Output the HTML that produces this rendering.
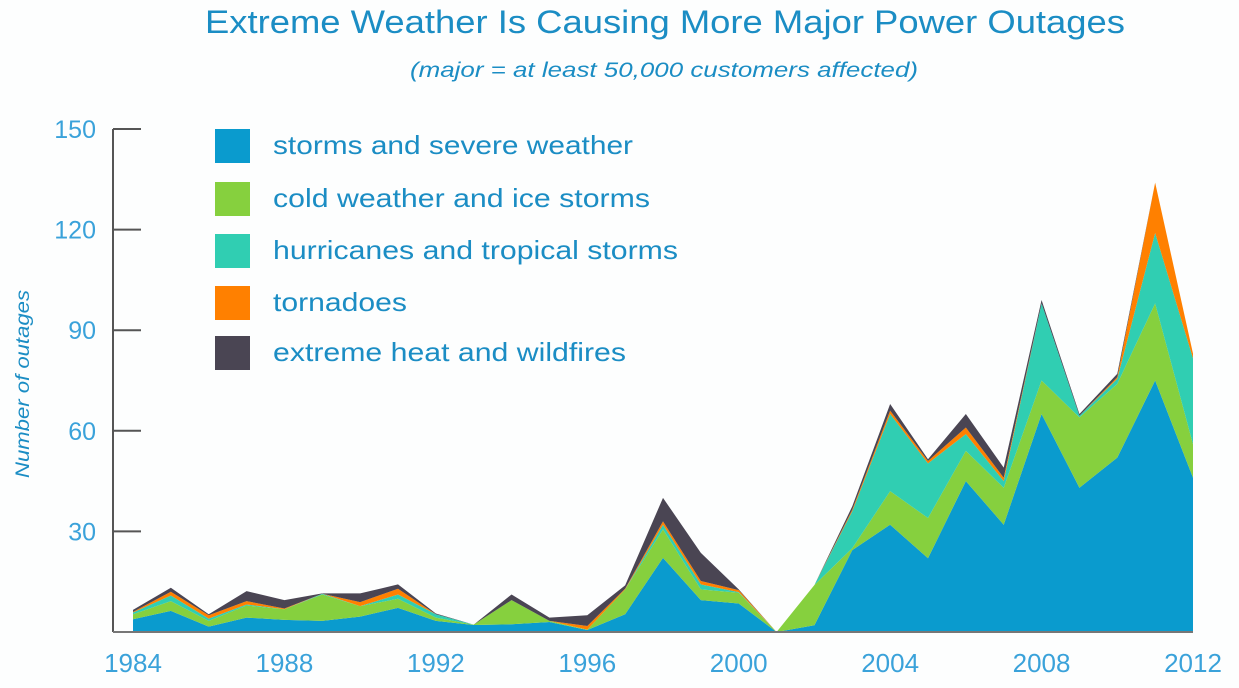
<!DOCTYPE html>
<html><head><meta charset="utf-8"><style>
html,body{margin:0;padding:0;background:#fdfefe;}
svg{display:block;font-family:"Liberation Sans",sans-serif;}
</style></head><body>
<svg id="chart" width="1239" height="688" viewBox="0 0 1239 688">
<text x="205" y="33" font-size="32" fill="#1b8dc4" textLength="920" lengthAdjust="spacingAndGlyphs">Extreme Weather Is Causing More Major Power Outages</text>
<text x="410" y="77" font-size="21" font-style="italic" fill="#1b8dc4" textLength="508" lengthAdjust="spacingAndGlyphs">(major = at least 50,000 customers affected)</text>
<text transform="translate(29,384) rotate(-90)" text-anchor="middle" font-size="19" font-style="italic" fill="#1b8dc4" textLength="188" lengthAdjust="spacingAndGlyphs">Number of outages</text>
<g id="areas"></g>
<g id="axes"></g>
<g id="legend"></g>
</svg>
<script>
const years=[1984,1985,1986,1987,1988,1989,1990,1991,1992,1993,1994,1995,1996,1997,1998,1999,2000,2001,2002,2003,2004,2005,2006,2007,2008,2009,2010,2011,2012];
const storms=[3.8,6.3,1.6,4.3,3.6,3.3,4.6,7.2,3.3,2.1,2.3,3.0,0.6,5.3,22.1,9.5,8.5,0,2,24.4,32,22,45,32,65,43,52,75,46];
const cold=[1.5,2.9,1.7,3.6,3.2,7.9,3.1,2.7,1.0,0.1,7.2,0.3,0.1,7.4,8.5,3.2,3.2,0,12,0.6,10,12,9,11,10,21,22,23,10];
const hurricanes=[0.5,1.7,0.7,0.3,0,0.2,0,1.3,1.0,0,0,0,0,0,1.4,1.5,0.2,0,0,11,23,16.3,5,2,23,0.5,1.5,21,25.6];
const tornadoes=[0.2,1.1,1.0,1.0,0.2,0,1.2,1.7,0,0,0,0,1.1,0.2,1.0,1.0,0.6,0,0,0.5,1,0.7,2,1,0,0,0.5,15,1.4];
const heat=[0.6,1.2,0.3,3.0,2.5,0.1,2.6,1.3,0.2,0,1.7,1.0,3.2,1.0,7.0,8.4,0.2,0,0,1,2,0.5,4,3,1,0.5,1,0,0];
const yTicks=[30,60,90,120,150];
const xTicks=[1984,1988,1992,1996,2000,2004,2008,2012];
const seriesNames=["storms and severe weather","cold weather and ice storms","hurricanes and tropical storms","tornadoes","extreme heat and wildfires"];
const seriesColors=["#0a9bce","#86d03e","#30ceb2","#ff8000","#4a4553"];
const seriesKeys=["storms","cold","hurricanes","tornadoes","heat"];
const legendWidths=[360,377,405,134,353];

const NS="http://www.w3.org/2000/svg";
const x0=133,x1=1193,yBase=632,yTop=129;
function xs(yr){return x0+(yr-1984)*(x1-x0)/(2012-1984);}
function ys(v){return yBase-v*(yBase-yTop)/150;}
function mk(tag,attrs,parent){const e=document.createElementNS(NS,tag);for(const k in attrs)e.setAttribute(k,attrs[k]);parent.appendChild(e);return e;}

const all=[storms,cold,hurricanes,tornadoes,heat];
const areas=document.getElementById('areas');
let lower=years.map(()=>0);
all.forEach((s,i)=>{
  const upper=lower.map((b,j)=>b+s[j]);
  let d="M"+years.map((y,j)=>xs(y)+","+ys(upper[j])).join(" L");
  for(let j=years.length-1;j>=0;j--) d+=" L"+xs(years[j])+","+ys(lower[j]);
  d+=" Z";
  const p=mk('path',{d:d,fill:seriesColors[i]},areas);
  
  
  lower=upper;
});

const axes=document.getElementById('axes');
const yl=mk('line',{x1:113,y1:yTop,x2:113,y2:yBase,stroke:'#555',"stroke-width":2},axes);


const xl=mk('line',{x1:113,y1:yBase,x2:x1,y2:yBase,stroke:'#777',"stroke-width":2},axes);


yTicks.forEach(v=>{
  const t=mk('line',{x1:113,y1:ys(v),x2:141,y2:ys(v),stroke:'#555',"stroke-width":2},axes);
  
  
  const l=mk('text',{x:96,y:ys(v)+9,"text-anchor":"end","font-size":25,fill:"#3aa2da"},axes);
  l.textContent=v;
  
  
});
xTicks.forEach(v=>{
  const l=mk('text',{x:xs(v),y:672,"text-anchor":"middle","font-size":26,fill:"#3aa2da"},axes);
  l.textContent=v;
  
  
});

const legend=document.getElementById('legend');
const legY=[146,199,251,303,353];
seriesNames.forEach((n,i)=>{
  const g=mk('g',{},legend);
  
  
  const r=mk('rect',{x:215,y:legY[i]-17,width:35,height:34,fill:seriesColors[i]},g);
  
  
  const t=mk('text',{x:273,y:legY[i]+8,"font-size":26,fill:"#1b8dc4",textLength:legendWidths[i],lengthAdjust:"spacingAndGlyphs"},g);
  t.textContent=n;
  
  
});
</script>
</body></html>
